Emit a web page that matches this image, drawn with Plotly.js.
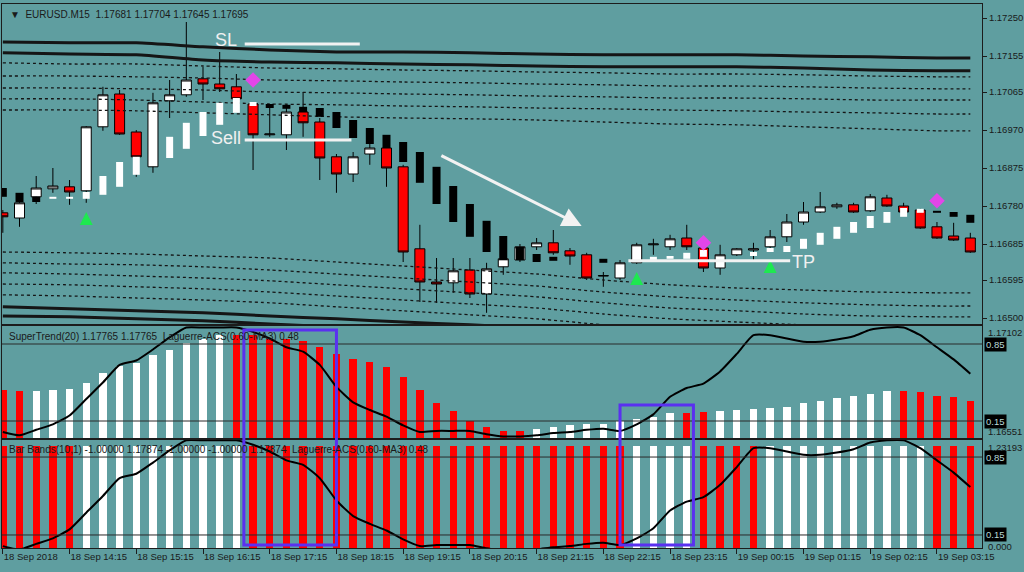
<!DOCTYPE html>
<html><head><meta charset="utf-8">
<script src="https://cdn.plot.ly/plotly-3.0.1.min.js"></script>
<style>html,body{margin:0;padding:0;background:#5f9ea0;}#chart{width:1024px;height:572px;}</style>
</head><body><div id="chart"></div>
<script>
// ---------- DATA (EURUSD M15, bar index 0 = 18 Sep 13:15) ----------
const openP = [1.16763,1.16750,1.16803,1.16823,1.16828,1.16818,1.16978,1.17060,1.16965,1.16878,
1.17043,1.17058,1.17098,1.17085,1.17078,1.17035,1.16958,1.16958,1.17015,1.16990,
1.16903,1.16860,1.16910,1.16925,1.16878,1.16673,1.16590,1.16588,1.16620,1.16560,
1.16628,1.16645,1.16678,1.16688,1.16668,1.16658,1.16605,1.16600,1.16638,1.16683,
1.16678,1.16700,1.16675,1.16625,1.16658,1.16670,1.16678,1.16703,1.16740,1.16765,
1.16778,1.16783,1.16768,1.16800,1.16780,1.16770,1.16728,1.16705,1.16700];
const highP = [1.16770,1.16795,1.16855,1.16875,1.16845,1.16980,1.17078,1.17070,1.16970,1.17063,
1.17095,1.17240,1.17128,1.17165,1.17110,1.17040,1.17028,1.17033,1.17065,1.17000,
1.16910,1.16915,1.16938,1.16930,1.16883,1.16733,1.16650,1.16650,1.16650,1.16638,
1.16650,1.16685,1.16700,1.16720,1.16675,1.16663,1.16615,1.16645,1.16688,1.16698,
1.16708,1.16733,1.16678,1.16683,1.16675,1.16688,1.16720,1.16760,1.16790,1.16815,
1.16788,1.16788,1.16810,1.16808,1.16788,1.16773,1.16740,1.16738,1.16713];
const lowP = [1.16713,1.16728,1.16785,1.16813,1.16783,1.16788,1.16968,1.16958,1.16853,1.16863,
1.17000,1.17053,1.17045,1.17065,1.17043,1.16870,1.16953,1.16920,1.16953,1.16845,
1.16813,1.16840,1.16883,1.16828,1.16640,1.16540,1.16538,1.16563,1.16550,1.16513,
1.16608,1.16640,1.16670,1.16658,1.16633,1.16595,1.16578,1.16595,1.16635,1.16658,
1.16670,1.16670,1.16615,1.16608,1.16655,1.16645,1.16675,1.16690,1.16733,1.16763,
1.16773,1.16763,1.16765,1.16778,1.16763,1.16723,1.16698,1.16693,1.16663];
const closeP = [1.16753,1.16788,1.16825,1.16830,1.16815,1.16978,1.17058,1.16960,1.16903,1.17038,
1.17058,1.17095,1.17085,1.17073,1.17048,1.16958,1.16960,1.17015,1.16988,1.16900,
1.16860,1.16903,1.16925,1.16875,1.16665,1.16590,1.16585,1.16618,1.16560,1.16623,
1.16648,1.16678,1.16688,1.16663,1.16655,1.16600,1.16606,1.16638,1.16683,1.16685,
1.16698,1.16678,1.16625,1.16658,1.16673,1.16673,1.16703,1.16740,1.16765,1.16778,
1.16783,1.16765,1.16803,1.16780,1.16765,1.16725,1.16700,1.16695,1.16665];

// smoothed heiken-ashi style blocks (w = white/up, b = black/down)
const blockTop = [1.16825,1.16813,1.16803,1.16803,1.16803,1.16815,1.16855,1.16890,1.16903,1.16925,
1.16953,1.16988,1.17015,1.17038,1.17050,1.17040,1.17035,1.17033,1.17028,1.17025,
1.17015,1.16995,1.16975,1.16958,1.16940,1.16915,1.16878,1.16830,1.16785,1.16743,
1.16705,1.16678,1.16660,1.16653,null,null,1.16648,null,1.16650,1.16653,
1.16655,1.16663,1.16670,null,null,1.16665,1.16675,1.16680,1.16698,1.16713,
1.16728,1.16740,1.16755,1.16765,1.16775,1.16773,1.16768,1.16765,1.16758];
const blockBottom = [1.16803,1.16790,1.16790,1.16798,1.16798,1.16798,1.16808,1.16828,1.16858,1.16883,
1.16900,1.16923,1.16955,1.16983,1.17013,1.17030,1.17025,1.17023,1.17015,1.17003,
1.16975,1.16950,1.16935,1.16925,1.16890,1.16838,1.16785,1.16740,1.16703,1.16665,
1.16645,1.16645,1.16640,1.16643,null,null,1.16638,null,1.16640,1.16643,
1.16648,1.16648,1.16653,null,null,1.16655,1.16665,1.16665,1.16673,1.16683,
1.16698,1.16713,1.16725,1.16738,1.16753,1.16763,1.16763,1.16753,1.16738];
const blockColor = ['b','b','b','w','w','w','w','w','w','w',
'w','w','w','w','w','w','b','b','b','b',
'b','b','b','b','b','b','b','b','b','b',
'b','b','b','b',null,null,'b',null,'w','w',
'w','w','w',null,null,'w','w','w','w','w',
'w','w','w','w','w','w','b','b','b'];

// envelope bands, read at the hourly bars
const bandX = [0,4,8,12,16,20,24,28,32,36,40,44,48,52,56,58];
const bandU1 = [1.17190,1.17188,1.17188,1.17178,1.17170,1.17165,1.17165,1.17163,1.17160,1.17158,1.17158,1.17158,1.17155,1.17153,1.17150,1.17150];
const bandU2 = [1.17163,1.17160,1.17158,1.17145,1.17140,1.17138,1.17135,1.17133,1.17130,1.17128,1.17128,1.17128,1.17125,1.17120,1.17118,1.17118];
const bandD1 = [1.17138,1.17135,1.17135,1.17130,1.17125,1.17123,1.17120,1.17118,1.17115,1.17113,1.17110,1.17110,1.17108,1.17105,1.17103,1.17103];
const bandD2 = [1.17105,1.17105,1.17103,1.17100,1.17095,1.17093,1.17090,1.17088,1.17085,1.17083,1.17080,1.17080,1.17078,1.17075,1.17073,1.17073];
const bandD3 = [1.17075,1.17075,1.17073,1.17070,1.17065,1.17063,1.17060,1.17058,1.17055,1.17053,1.17050,1.17050,1.17048,1.17045,1.17045,1.17045];
const bandD4 = [1.17048,1.17048,1.17045,1.17040,1.17035,1.17033,1.17030,1.17028,1.17025,1.17023,1.17020,1.17018,1.17015,1.17013,1.17010,1.17010];
const bandD5 = [1.17020,1.17020,1.17018,1.17013,1.17008,1.17003,1.17000,1.16998,1.16995,1.16990,1.16985,1.16983,1.16978,1.16973,1.16968,1.16968];
const bandL1 = [1.16665,1.16663,1.16660,1.16655,1.16650,1.16640,1.16630,1.16620,1.16610,1.16595,1.16583,1.16575,1.16570,1.16565,1.16563,1.16563];
const bandL2 = [1.16638,1.16635,1.16633,1.16628,1.16620,1.16610,1.16600,1.16590,1.16580,1.16565,1.16553,1.16545,1.16538,1.16533,1.16530,1.16530];
const bandL3 = [1.16613,1.16610,1.16605,1.16600,1.16593,1.16583,1.16573,1.16563,1.16553,1.16538,1.16525,1.16518,1.16510,1.16505,1.16503,1.16503];
const bandL4 = [1.16585,1.16583,1.16578,1.16573,1.16565,1.16555,1.16545,1.16535,1.16525,1.16510,1.16498,1.16490,1.16483,1.16478,1.16475,1.16475];
const bandL5 = [1.16558,1.16555,1.16550,1.16545,1.16538,1.16528,1.16518,1.16508,1.16498,1.16483,1.16470,1.16463,1.16455,1.16450,1.16448,1.16448];
const bandB1 = [1.16528,1.16523,1.16518,1.16513,1.16505,1.16498,1.16490,1.16483,1.16475,1.16468,1.16460,1.16453,1.16448,1.16443,1.16440,1.16440];
const bandB2 = [1.16505,1.16503,1.16498,1.16493,1.16485,1.16478,1.16470,1.16463,1.16455,1.16448,1.16440,1.16433,1.16428,1.16423,1.16420,1.16420];

// signal arrows
const buyX = [5,38,46];    const buyY = [1.16765,1.16615,1.16645];
const sellX = [15,42,56];  const sellY = [1.17095,1.16688,1.16793];

// SuperTrend(20) histogram and direction (1 = up/white, -1 = down/red)
const stValue = [0.43,0.42,0.42,0.43,0.44,0.50,0.59,0.65,0.68,0.75,
0.80,0.86,0.90,0.93,0.93,0.93,0.90,0.90,0.88,0.82,
0.76,0.71,0.69,0.64,0.55,0.43,0.31,0.24,0.15,0.10,
0.06,0.06,0.08,0.10,0.11,0.12,0.12,0.15,0.17,0.19,
0.22,0.22,0.23,0.24,0.25,0.26,0.27,0.28,0.31,0.33,
0.36,0.38,0.40,0.42,0.42,0.41,0.38,0.37,0.33];
const stDir = [-1,-1,1,1,1,1,1,1,1,1, 1,1,1,1,-1,-1,-1,-1,-1,-1,
-1,-1,-1,-1,-1,-1,-1,-1,-1,-1, -1,-1,1,1,1,1,1,1,1,1,
1,-1,-1,1,1,1,1,1,1,1, 1,1,1,1,-1,-1,-1,-1,-1];
// Bar Bands(10,1) direction and bar level
const bbDir = [-1,-1,-1,-1,-1,1,1,1,1,1, 1,1,1,1,1,-1,-1,-1,-1,-1,
-1,-1,-1,-1,-1,-1,-1,-1,-1,-1, -1,-1,-1,-1,-1,-1,-1,-1,1,1,
1,1,-1,-1,-1,-1,1,1,1,1, 1,1,1,1,1,1,-1,-1,-1];
const bbValue = [0.95,0.95,0.95,0.95,0.95,0.95,0.95,0.95,0.95,0.95,
0.95,0.95,0.95,0.95,0.95,0.95,0.95,0.95,0.95,0.95,
0.95,0.95,0.95,0.95,0.95,0.95,0.95,0.95,0.95,0.95,
0.95,0.95,0.95,0.95,0.95,0.95,0.95,0.95,0.95,0.95,
0.95,0.95,0.95,0.95,0.95,0.95,0.95,0.95,0.95,0.95,
0.95,0.95,0.95,0.95,0.95,0.95,0.95,0.95,0.95];
// Laguerre-ACS(0.60-MA3)
const laguerre = [0.05,0.02,0.07,0.12,0.20,0.35,0.50,0.66,0.70,0.80,
0.91,1.00,1.00,1.00,1.00,0.96,0.90,0.82,0.78,0.66,
0.46,0.32,0.25,0.19,0.11,0.05,0.06,0.06,0.06,0.03,
0.01,0.01,0.02,0.04,0.05,0.07,0.08,0.06,0.12,0.21,
0.37,0.45,0.49,0.60,0.76,0.93,0.93,0.90,0.87,0.87,
0.89,0.92,0.98,1.00,1.00,0.93,0.82,0.71,0.58];

const priceTicks = [1.17250,1.17155,1.17065,1.16970,1.16875,1.16780,1.16685,1.16595,1.16500];
const timeTickPos = [0,4,8,12,16,20,24,28,32,36,40,44,48,52,56];
const timeTickText = ['18 Sep 2018','18 Sep 14:15','18 Sep 15:15','18 Sep 16:15','18 Sep 17:15','18 Sep 18:15',
'18 Sep 19:15','18 Sep 20:15','18 Sep 21:15','18 Sep 22:15','18 Sep 23:15','19 Sep 00:15','19 Sep 01:15',
'19 Sep 02:15','19 Sep 03:15'];

// ---------- BUILD ----------
const idx = openP.map((_, i) => i);
const BG = '#5f9ea0', FR = '#1c1c1c', FONT = 'Liberation Sans, Arial, sans-serif';
const xr = [-0.05, 58.7];

function blockSegs(col){
  const xs=[], ys=[];
  blockColor.forEach((c,i)=>{ if(c===col){ xs.push(i,i,null); ys.push(blockBottom[i],blockTop[i],null);} });
  return {xs, ys};
}
const wb = blockSegs('w'), bb = blockSegs('b');

const traces = [];
function band(arr, dash, w){
  traces.push({type:'scatter', mode:'lines', x:bandX, y:arr, xaxis:'x', yaxis:'y',
    line:{color:'#151515', width:w, dash:dash, shape:'spline', smoothing:0.6}, hoverinfo:'skip', showlegend:false});
}
band(bandU1,'solid',3); band(bandU2,'solid',3);
[bandD1,bandD2,bandD3,bandD4,bandD5,bandL1,bandL2,bandL3,bandL4,bandL5].forEach(a=>band(a,'3px,3px',1.3));
band(bandB1,'solid',3); band(bandB2,'solid',3);

traces.push({type:'candlestick', x:idx, open:openP, high:highP, low:lowP, close:closeP, xaxis:'x', yaxis:'y',
  increasing:{line:{color:'#000', width:1}, fillcolor:'#ffffff'},
  decreasing:{line:{color:'#000', width:1}, fillcolor:'#ff0000'},
  whiskerwidth:0, hoverinfo:'skip', showlegend:false});
traces.push({type:'scatter', mode:'lines', x:wb.xs, y:wb.ys, xaxis:'x', yaxis:'y',
  line:{color:'#ffffff', width:7}, connectgaps:false, hoverinfo:'skip', showlegend:false});
traces.push({type:'scatter', mode:'lines', x:bb.xs, y:bb.ys, xaxis:'x', yaxis:'y',
  line:{color:'#000000', width:8}, connectgaps:false, hoverinfo:'skip', showlegend:false});
traces.push({type:'scatter', mode:'markers', x:buyX, y:buyY, xaxis:'x', yaxis:'y',
  marker:{symbol:'arrow-up', size:13, color:'#1ee850', line:{width:0}}, hoverinfo:'skip', showlegend:false});
traces.push({type:'scatter', mode:'markers', x:sellX, y:sellY, xaxis:'x', yaxis:'y',
  marker:{symbol:'diamond', size:12, color:'#e246e8', line:{width:0}}, hoverinfo:'skip', showlegend:false});

// panel 2: SuperTrend histogram + Laguerre
traces.push({type:'bar', x:idx, y:stValue, xaxis:'x2', yaxis:'y2', width:0.44,
  marker:{color:stDir.map(d=>d>0?'#ffffff':'#ff0000'), line:{width:0}}, hoverinfo:'skip', showlegend:false});
traces.push({type:'scatter', mode:'lines', x:idx, y:laguerre, xaxis:'x2', yaxis:'y2',
  line:{color:'#000', width:2, shape:'spline', smoothing:0.5}, hoverinfo:'skip', showlegend:false});
// panel 3: Bar Bands + Laguerre
traces.push({type:'bar', x:idx, y:bbValue, xaxis:'x3', yaxis:'y3', width:0.44,
  marker:{color:bbDir.map(d=>d>0?'#ffffff':'#ff0000'), line:{width:0}}, hoverinfo:'skip', showlegend:false});
traces.push({type:'scatter', mode:'lines', x:idx, y:laguerre, xaxis:'x3', yaxis:'y3',
  line:{color:'#000', width:2, shape:'spline', smoothing:0.5}, hoverinfo:'skip', showlegend:false});

const axBase = {showgrid:false, zeroline:false, showline:true, mirror:true, linecolor:FR, linewidth:1};
const H = 544; // paper height in px (4..548)
const py = y => (548 - y) / H;
const px = x => (x - 2) / 980;

const layout = {
  width:1024, height:572, margin:{l:2, r:42, t:4, b:24},
  paper_bgcolor:BG, plot_bgcolor:BG, showlegend:false,
  font:{family:FONT, size:10, color:'#1a1a1a'},
  boxgap:0.4, boxgroupgap:0, bargap:0,
  xaxis: Object.assign({}, axBase, {domain:[0,1], anchor:'y', range:xr, showticklabels:false, ticks:'', rangeslider:{visible:false}}),
  yaxis: Object.assign({}, axBase, {domain:[py(324),1], anchor:'x', side:'right', range:[1.16485,1.17285],
    tickvals:priceTicks, ticktext:priceTicks.map(v=>v.toFixed(5)), ticks:'outside', ticklen:4, tickcolor:FR,
    tickfont:{size:9.5, color:'#1a1a1a', family:FONT}}),
  xaxis2: Object.assign({}, axBase, {domain:[0,1], anchor:'y2', range:xr, showticklabels:false, ticks:''}),
  yaxis2: Object.assign({}, axBase, {domain:[py(438),py(326)], anchor:'x2', range:[-0.0045,1.0136], showticklabels:false, ticks:''}),
  xaxis3: Object.assign({}, axBase, {domain:[0,1], anchor:'y3', range:xr, tickvals:timeTickPos, ticktext:timeTickText,
    ticks:'outside', ticklen:5, tickcolor:FR, ticklabelposition:'outside right', tickfont:{size:9.5, color:'#1a1a1a', family:FONT}}),
  yaxis3: Object.assign({}, axBase, {domain:[0,py(440)], anchor:'x3', range:[0.033,1.003], showticklabels:false, ticks:''}),
  shapes:[
    {type:'line', xref:'paper', x0:0, x1:1, yref:'y2', y0:0.85, y1:0.85, line:{color:'#2a2a2a', width:1}},
    {type:'line', xref:'paper', x0:0, x1:1, yref:'y2', y0:0.15, y1:0.15, line:{color:'#2a2a2a', width:1}},
    {type:'line', xref:'paper', x0:0, x1:1, yref:'y3', y0:0.85, y1:0.85, line:{color:'#2a2a2a', width:1}},
    {type:'line', xref:'paper', x0:0, x1:1, yref:'y3', y0:0.15, y1:0.15, line:{color:'#2a2a2a', width:1}},
    {type:'line', xref:'x', yref:'y', x0:14.5, x1:21.4, y0:1.17185, y1:1.17185, line:{color:'#f2f2f2', width:3}},
    {type:'line', xref:'x', yref:'y', x0:14.5, x1:20.9, y0:1.16945, y1:1.16945, line:{color:'#f2f2f2', width:3}},
    {type:'line', xref:'x', yref:'y', x0:37.5, x1:47.2, y0:1.16643, y1:1.16643, line:{color:'#f2f2f2', width:3}},
    {type:'rect', xref:'x', yref:'paper', x0:14.45, x1:20.0, y0:py(545), y1:py(330), line:{color:'#5a30f0', width:3}, fillcolor:'rgba(0,0,0,0)'},
    {type:'rect', xref:'x', yref:'paper', x0:37.0, x1:41.4, y0:py(545), y1:py(405), line:{color:'#5a30f0', width:3}, fillcolor:'rgba(0,0,0,0)'}
  ],
  annotations:[
    {xref:'paper', yref:'paper', x:px(8), y:py(14), xanchor:'left', yanchor:'middle', showarrow:false,
     text:'▼  EURUSD.M15  1.17681 1.17704 1.17645 1.17695', font:{size:10, color:'#1a1a1a'}},
    {xref:'x', yref:'y', x:13.4, y:1.17195, showarrow:false, text:'SL', font:{size:18, color:'#f0f0f0'}},
    {xref:'x', yref:'y', x:13.4, y:1.16950, showarrow:false, text:'Sell', font:{size:18, color:'#f0f0f0'}},
    {xref:'x', yref:'y', x:48.0, y:1.16640, showarrow:false, text:'TP', font:{size:18, color:'#f0f0f0'}},
    {xref:'x', yref:'y', x:34.7, y:1.1673, axref:'x', ayref:'y', ax:26.2, ay:1.16908, showarrow:true,
     arrowhead:2, arrowsize:1.3, arrowwidth:3, arrowcolor:'#f2f2f2', text:''},
    {xref:'paper', yref:'paper', x:px(7), y:py(336), xanchor:'left', yanchor:'middle', showarrow:false,
     text:'SuperTrend(20) 1.17765 1.17765  Laguerre-ACS(0.60-MA3) 0.48', font:{size:10, color:'#1a1a1a'}},
    {xref:'paper', yref:'paper', x:px(7), y:py(449), xanchor:'left', yanchor:'middle', showarrow:false,
     text:'Bar Bands(10,1) -1.00000 1.17874 -1.00000 -1.00000 1.17874  Laguerre-ACS(0.60-MA3) 0.48', font:{size:10, color:'#1a1a1a'}},
    {xref:'paper', yref:'paper', x:px(986), y:py(332), xanchor:'left', yanchor:'middle', showarrow:false, text:'1.17102', font:{size:9.5}},
    {xref:'paper', yref:'paper', x:px(986), y:py(431), xanchor:'left', yanchor:'middle', showarrow:false, text:'1.16551', font:{size:9.5}},
    {xref:'paper', yref:'paper', x:px(986), y:py(447), xanchor:'left', yanchor:'middle', showarrow:false, text:'1.23193', font:{size:9.5}},
    {xref:'paper', yref:'paper', x:px(986), y:py(546), xanchor:'left', yanchor:'middle', showarrow:false, text:'0.000', font:{size:9.5}},
    {xref:'paper', yref:'y2', x:px(984), y:0.85, xanchor:'left', yanchor:'middle', showarrow:false, text:'0.85', bgcolor:'#000', borderpad:1, font:{size:9.5, color:'#b9d8d8'}},
    {xref:'paper', yref:'y2', x:px(984), y:0.15, xanchor:'left', yanchor:'middle', showarrow:false, text:'0.15', bgcolor:'#000', borderpad:1, font:{size:9.5, color:'#b9d8d8'}},
    {xref:'paper', yref:'y3', x:px(984), y:0.85, xanchor:'left', yanchor:'middle', showarrow:false, text:'0.85', bgcolor:'#000', borderpad:1, font:{size:9.5, color:'#b9d8d8'}},
    {xref:'paper', yref:'y3', x:px(984), y:0.15, xanchor:'left', yanchor:'middle', showarrow:false, text:'0.15', bgcolor:'#000', borderpad:1, font:{size:9.5, color:'#b9d8d8'}}
  ]
};

Plotly.newPlot('chart', traces, layout, {displayModeBar:false, staticPlot:true});
</script></body></html>
